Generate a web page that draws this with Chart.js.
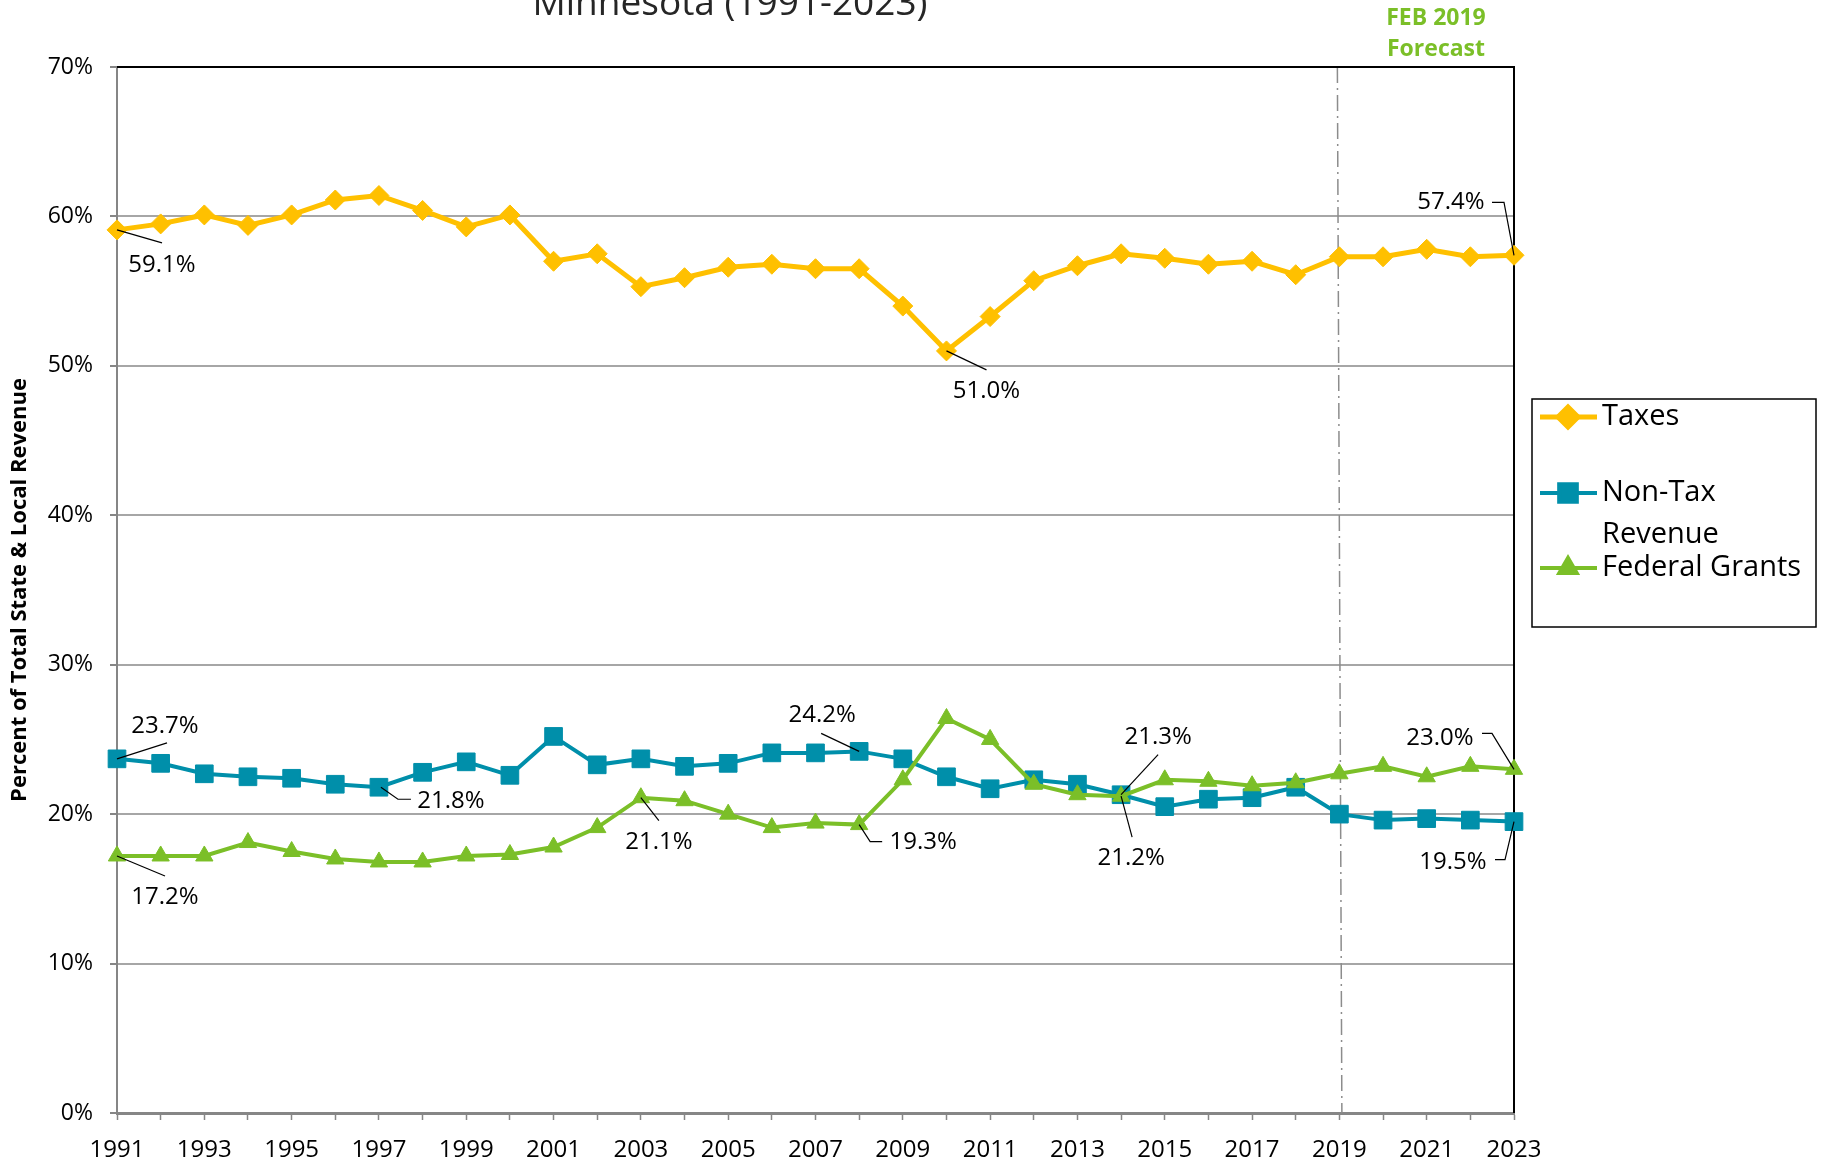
<!DOCTYPE html>
<html>
<head>
<meta charset="utf-8">
<title>Minnesota revenue shares</title>
<script src="https://cdn.jsdelivr.net/npm/chart.js@4.4.1/dist/chart.umd.min.js"></script>
<style>
  html, body { margin: 0; padding: 0; background: #fff; }
  #wrap { width: 1829px; height: 1162px; position: relative; }
</style>
</head>
<body>
<div id="wrap"><canvas id="revenueChart" width="1829" height="1162"></canvas></div>
<script>
// Data (percent of total state & local revenue)
const years = ['1991', '1992', '1993', '1994', '1995', '1996', '1997', '1998', '1999', '2000',
  '2001', '2002', '2003', '2004', '2005', '2006', '2007', '2008', '2009', '2010',
  '2011', '2012', '2013', '2014', '2015', '2016', '2017', '2018', '2019', '2020',
  '2021', '2022', '2023'];

const taxes = [59.1, 59.5, 60.1, 59.4, 60.1, 61.1, 61.4, 60.4, 59.3, 60.1,
  57.0, 57.5, 55.3, 55.9, 56.6, 56.8, 56.5, 56.5, 54.0, 51.0,
  53.3, 55.7, 56.7, 57.5, 57.2, 56.8, 57.0, 56.1, 57.3, 57.3,
  57.8, 57.3, 57.4];

const nonTax = [23.7, 23.4, 22.7, 22.5, 22.4, 22.0, 21.8, 22.8, 23.5, 22.6,
  25.2, 23.3, 23.7, 23.2, 23.4, 24.1, 24.1, 24.2, 23.7, 22.5,
  21.7, 22.3, 22.0, 21.3, 20.5, 21.0, 21.1, 21.8, 20.0, 19.6,
  19.7, 19.6, 19.5];

const federalGrants = [17.2, 17.2, 17.2, 18.1, 17.5, 17.0, 16.8, 16.8, 17.2, 17.3,
  17.8, 19.1, 21.1, 20.9, 20.0, 19.1, 19.4, 19.3, 22.3, 26.4,
  25.0, 22.0, 21.3, 21.2, 22.3, 22.2, 21.9, 22.1, 22.7, 23.2,
  22.5, 23.2, 23.0];

const seriesNames = ['Taxes', 'Non-Tax Revenue', 'Federal Grants'];
const yTickValues = [0, 10, 20, 30, 40, 50, 60, 70];
const forecastYear = '2019';

// Colours
const GOLD = '#FFC000';
const TEAL = '#008FAA';
const GREEN = '#7BBF28';
const AXIS_GRAY = '#868686';
const GRID_GRAY = '#A6A6A6';

Chart.defaults.font.family = "'Open Sans', 'DejaVu Sans', sans-serif";
Chart.defaults.color = '#000';

// Which points carry a value label, where the label text sits and the leader path (offsets from the point)
const callouts = [
  { ds: 0, i: 0,  text: [45, 35],   path: [[0, 0], [45, 13]] },
  { ds: 0, i: 19, text: [40, 40],   path: [[0, 0], [40, 19]] },
  { ds: 0, i: 32, text: [-63, -53], path: [[0, 0], [-10, -53], [-22, -53]] },
  { ds: 1, i: 0,  text: [48, -33],  path: [[0, 0], [50, -16]] },
  { ds: 1, i: 6,  text: [72, 14],   path: [[2, 0], [19, 12], [32, 12]] },
  { ds: 1, i: 17, text: [-37, -36], path: [[0, 0], [-38, -18]] },
  { ds: 1, i: 23, text: [37, -58],  path: [[0, 0], [37, -40]] },
  { ds: 1, i: 32, text: [-61, 41],  path: [[0, 0], [-9, 38], [-19, 38]] },
  { ds: 2, i: 0,  text: [48, 41],   path: [[0, 0], [48, 20]] },
  { ds: 2, i: 12, text: [18, 44],   path: [[0, 0], [18, 23]] },
  { ds: 2, i: 17, text: [64, 18],   path: [[0, 0], [11, 17], [23, 17]] },
  { ds: 2, i: 23, text: [10, 62],   path: [[0, 0], [11, 41]] },
  { ds: 2, i: 32, text: [-74, -31], path: [[0, 0], [-22, -36], [-32, -36]] }
];

// Plot frame: black top/right border + forecast divider line
const framePlugin = {
  id: 'frame',
  beforeDatasetsDraw(chart) {
    const { ctx, chartArea } = chart;
    const xScale = chart.scales.x;
    const fx = xScale.getPixelForValue(years.indexOf(forecastYear));

    ctx.save();
    // forecast dash-dot line
    ctx.strokeStyle = '#8C8C8C';
    ctx.lineWidth = 1.5;
    ctx.setLineDash([16, 5, 2, 5]);
    ctx.beginPath();
    ctx.moveTo(fx - 2, chartArea.top);
    ctx.lineTo(fx + 2.5, chartArea.bottom);
    ctx.stroke();
    ctx.setLineDash([]);

    // top and right border
    ctx.strokeStyle = '#000';
    ctx.lineWidth = 2;
    ctx.beginPath();
    ctx.moveTo(chartArea.left, chartArea.top);
    ctx.lineTo(chartArea.right, chartArea.top);
    ctx.lineTo(chartArea.right, chartArea.bottom);
    ctx.stroke();
    ctx.restore();
  },
  afterDraw(chart) {
    const { ctx, chartArea } = chart;
    ctx.save();
    // cut-off title at the very top
    ctx.fillStyle = '#262626';
    ctx.font = "37px 'Open Sans'";
    ctx.textAlign = 'center';
    ctx.textBaseline = 'alphabetic';
    ctx.fillText('Minnesota (1991-2023)', 730, 15);

    // forecast note
    ctx.fillStyle = GREEN;
    ctx.font = "bold 23px 'Open Sans'";
    ctx.textBaseline = 'middle';
    ctx.fillText('FEB 2019', chartArea.right - 78, 18);
    ctx.fillText('Forecast', chartArea.right - 78, 49);
    ctx.restore();
  }
};

// Value labels with leader lines
const calloutPlugin = {
  id: 'callouts',
  afterDatasetsDraw(chart) {
    const { ctx } = chart;
    ctx.save();
    ctx.font = "24px 'Open Sans'";
    ctx.textAlign = 'center';
    ctx.textBaseline = 'middle';
    callouts.forEach(c => {
      const pt = chart.getDatasetMeta(c.ds).data[c.i];
      const value = chart.data.datasets[c.ds].data[c.i];
      ctx.strokeStyle = '#000';
      ctx.lineWidth = 1.2;
      ctx.beginPath();
      c.path.forEach(([dx, dy], k) => {
        if (k === 0) ctx.moveTo(pt.x + dx, pt.y + dy);
        else ctx.lineTo(pt.x + dx, pt.y + dy);
      });
      ctx.stroke();
      ctx.fillStyle = '#000';
      ctx.fillText(value.toFixed(1) + '%', pt.x + c.text[0], pt.y + c.text[1]);
    });
    ctx.restore();
  }
};

// Boxed legend on the right, Excel style
const boxLegendPlugin = {
  id: 'boxLegend',
  afterDraw(chart) {
    const { ctx, chartArea } = chart;
    const left = chartArea.right + 18;
    const top = 399;
    const width = 284;
    const height = 228;
    const entries = [
      { ds: 0, y: 417, lines: ['Taxes'] },
      { ds: 1, y: 493, lines: ['Non-Tax', 'Revenue'] },
      { ds: 2, y: 568, lines: ['Federal Grants'] }
    ];

    ctx.save();
    ctx.strokeStyle = '#000';
    ctx.lineWidth = 1.5;
    ctx.strokeRect(left, top, width, height);

    ctx.font = "29px 'Open Sans'";
    ctx.textAlign = 'left';
    ctx.textBaseline = 'middle';
    entries.forEach(e => {
      const ds = chart.data.datasets[e.ds];
      ctx.strokeStyle = ds.borderColor;
      ctx.lineWidth = ds.borderWidth;
      ctx.beginPath();
      ctx.moveTo(left + 8, e.y);
      ctx.lineTo(left + 65, e.y);
      ctx.stroke();

      ctx.fillStyle = ds.pointBackgroundColor;
      ctx.strokeStyle = ds.pointBorderColor;
      Chart.helpers.drawPoint(ctx, {
        pointStyle: ds.pointStyle,
        radius: ds.pointRadius,
        rotation: 0,
        borderWidth: 1
      }, left + 36, e.y);

      ctx.fillStyle = '#000';
      e.lines.forEach((line, k) => {
        ctx.fillText(line, left + 70, e.y + k * 42);
      });
    });
    ctx.restore();
  }
};

const ctx = document.getElementById('revenueChart');

new Chart(ctx, {
  type: 'line',
  data: {
    labels: years,
    datasets: [
      {
        label: seriesNames[0],
        data: taxes,
        borderColor: GOLD,
        backgroundColor: GOLD,
        borderWidth: 5,
        pointStyle: 'rectRot',
        pointRadius: 10,
        pointBackgroundColor: GOLD,
        pointBorderColor: GOLD,
        pointBorderWidth: 1,
        tension: 0,
        order: 2
      },
      {
        label: seriesNames[1],
        data: nonTax,
        borderColor: TEAL,
        backgroundColor: TEAL,
        borderWidth: 4,
        pointStyle: 'rect',
        pointRadius: 12.5,
        pointBackgroundColor: TEAL,
        pointBorderColor: TEAL,
        pointBorderWidth: 1,
        tension: 0,
        order: 1
      },
      {
        label: seriesNames[2],
        data: federalGrants,
        borderColor: GREEN,
        backgroundColor: GREEN,
        borderWidth: 4,
        pointStyle: 'triangle',
        pointRadius: 10,
        pointBackgroundColor: GREEN,
        pointBorderColor: GREEN,
        pointBorderWidth: 1,
        tension: 0,
        order: 0
      }
    ]
  },
  options: {
    responsive: false,
    devicePixelRatio: 1,
    animation: false,
    events: [],
    layout: {
      padding: { top: 67, right: 315, bottom: 0, left: 0 }
    },
    plugins: {
      legend: { display: false },
      tooltip: { enabled: false },
      title: { display: false }
    },
    scales: {
      x: {
        type: 'category',
        offset: false,
        afterFit(scale) { scale.height = 49; },
        border: { color: AXIS_GRAY, width: 3 },
        grid: {
          drawOnChartArea: false,
          drawTicks: true,
          tickLength: 7,
          tickColor: AXIS_GRAY,
          tickWidth: 1.5
        },
        ticks: {
          autoSkip: false,
          maxRotation: 0,
          padding: 16,
          font: { size: 24 },
          color: '#000',
          callback: function(value, index) {
            return index % 2 === 0 ? years[index] : '';
          }
        }
      },
      y: {
        min: 0,
        max: 70,
        afterFit(scale) { scale.width = 117; },
        afterBuildTicks(scale) {
          scale.ticks = yTickValues.map(v => ({ value: v }));
        },
        border: { color: AXIS_GRAY, width: 2 },
        grid: {
          color: GRID_GRAY,
          lineWidth: 2,
          drawTicks: true,
          tickLength: 7,
          tickColor: AXIS_GRAY
        },
        ticks: {
          padding: 17,
          font: { size: 23 },
          color: '#000',
          callback: function(value) {
            return value + '%';
          }
        },
        title: {
          display: true,
          text: 'Percent of Total State & Local Revenue',
          color: '#000',
          font: { size: 22, weight: 'bold' },
          padding: { top: 7, bottom: 0 }
        }
      }
    }
  },
  plugins: [framePlugin, calloutPlugin, boxLegendPlugin]
});
</script>
</body>
</html>
